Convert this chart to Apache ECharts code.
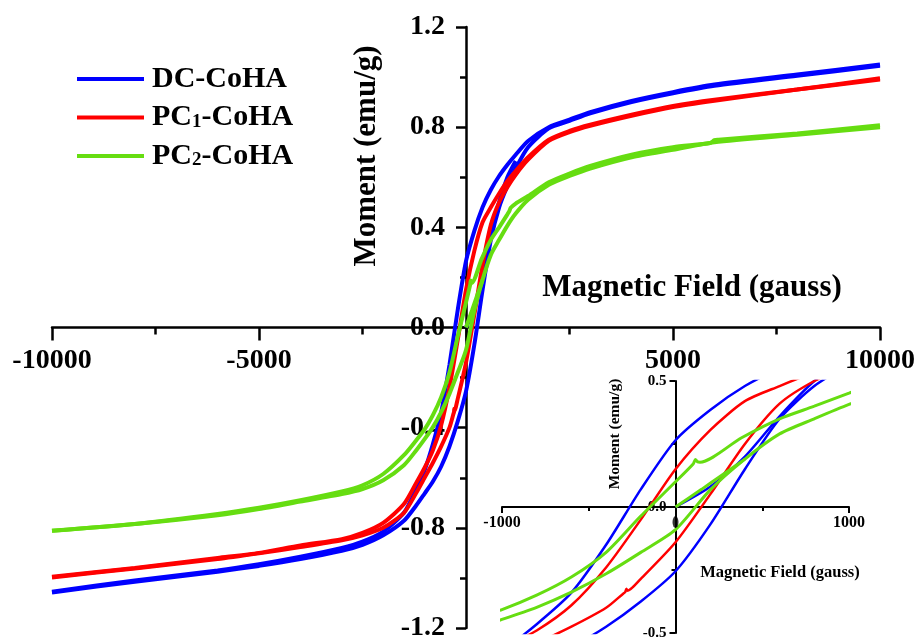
<!DOCTYPE html>
<html>
<head>
<meta charset="utf-8">
<script src="https://cdn.jsdelivr.net/npm/echarts@6/dist/echarts.min.js"></script>
<style>html,body{margin:0;padding:0;background:#fff}#c{width:917px;height:641px}</style>
</head>
<body>
<div id="c"></div>
<script>
// ---- data (field in gauss, moment in emu/g) ----
const seriesNames = ['DC-CoHA', 'PC1-CoHA', 'PC2-CoHA'];
const mainXTicks = [-10000, -5000, 5000, 10000];
const mainYTicks = [-1.2, -0.8, -0.4, 0.0, 0.4, 0.8, 1.2];
const insetXTicks = [-1000, 1000];
const insetYTicks = [-0.5, 0.0, 0.5];

const dcDescending = [[10000,1.05],[8000,1.01],[6000,0.97],[5000,0.94],[4000,0.905],[3000,0.86],[2500,0.83],[2000,0.80],[1500,0.745],[1200,0.69],[1000,0.65],[800,0.605],[600,0.55],[400,0.48],[200,0.385],[0,0.265],[-200,0.07],[-400,-0.15],[-600,-0.34],[-800,-0.465],[-1000,-0.57],[-1200,-0.645],[-1500,-0.74],[-2000,-0.815],[-2500,-0.855],[-3000,-0.88],[-4000,-0.915],[-5000,-0.945],[-6000,-0.97],[-8000,-1.01],[-10000,-1.055]];
const dcAscending = [[-10000,-1.058],[-8000,-1.015],[-6000,-0.975],[-5000,-0.952],[-4000,-0.925],[-3000,-0.892],[-2500,-0.868],[-2000,-0.83],[-1500,-0.772],[-1200,-0.71],[-1000,-0.663],[-800,-0.615],[-600,-0.555],[-400,-0.475],[-200,-0.375],[0,-0.255],[200,-0.07],[400,0.15],[600,0.35],[800,0.48],[1000,0.565],[1200,0.635],[1500,0.72],[2000,0.795],[2500,0.825],[3000,0.855],[4000,0.9],[5000,0.935],[6000,0.965],[8000,1.005],[10000,1.045]];
const dcVirgin = [[0,0],[200,0.08],[400,0.2],[600,0.36],[800,0.5],[1000,0.6],[1200,0.665]];

const pc1Descending = [[10000,0.995],[8000,0.95],[6000,0.91],[5000,0.885],[4000,0.85],[3000,0.81],[2500,0.785],[2000,0.75],[1500,0.68],[1200,0.625],[1000,0.585],[800,0.535],[600,0.48],[400,0.42],[200,0.305],[0,0.15],[-200,-0.05],[-400,-0.24],[-600,-0.39],[-800,-0.49],[-1000,-0.56],[-1200,-0.62],[-1500,-0.705],[-2000,-0.78],[-2500,-0.82],[-3000,-0.845],[-4000,-0.87],[-5000,-0.9],[-6000,-0.92],[-8000,-0.96],[-10000,-0.995]];
const pc1Ascending = [[-10000,-0.998],[-8000,-0.962],[-6000,-0.925],[-5000,-0.902],[-4000,-0.877],[-3000,-0.85],[-2500,-0.83],[-2000,-0.8],[-1500,-0.74],[-1200,-0.66],[-1000,-0.6],[-800,-0.54],[-600,-0.475],[-400,-0.4],[-300,-0.343],[-290,-0.338],[-283,-0.324],[-276,-0.332],[-200,-0.285],[0,-0.14],[200,0.05],[400,0.25],[600,0.41],[800,0.5],[1000,0.56],[1200,0.61],[1500,0.67],[2000,0.745],[2500,0.78],[3000,0.805],[4000,0.845],[5000,0.88],[6000,0.905],[8000,0.95],[10000,0.99]];

const pc2Descending = [[10000,0.808],[8000,0.775],[6100,0.75],[6000,0.748],[5900,0.737],[5000,0.72],[4000,0.69],[3000,0.645],[2500,0.615],[2000,0.58],[1500,0.525],[1200,0.495],[1080,0.478],[1050,0.466],[1000,0.452],[800,0.4],[600,0.35],[381,0.275],[141,0.178],[128,0.179],[115,0.188],[103,0.172],[0,0.1],[-200,-0.036],[-400,-0.18],[-600,-0.278],[-800,-0.35],[-1000,-0.407],[-1200,-0.45],[-1500,-0.51],[-2000,-0.585],[-2500,-0.63],[-3000,-0.655],[-4000,-0.69],[-5000,-0.72],[-6000,-0.745],[-8000,-0.785],[-10000,-0.812]];
const pc2Ascending = [[-10000,-0.812],[-8000,-0.785],[-6000,-0.75],[-5000,-0.725],[-4000,-0.695],[-3000,-0.665],[-2500,-0.645],[-2000,-0.61],[-1500,-0.55],[-1200,-0.49],[-1000,-0.446],[-800,-0.398],[-600,-0.338],[-400,-0.265],[-200,-0.18],[0,-0.09],[200,0.068],[400,0.19],[600,0.29],[800,0.35],[1000,0.407],[1200,0.455],[1500,0.51],[2000,0.57],[2500,0.605],[3000,0.635],[4000,0.68],[5000,0.71],[6000,0.74],[8000,0.77],[10000,0.8]];
const pc2Virgin = [[0,0],[150,0.07],[250,0.118],[400,0.19]];

const insetMarker = [[0,-0.06]];

// ---- styling / layout ----
const FONT = '"Liberation Serif", "Times New Roman", serif';
const colors = {'DC-CoHA':'#0000ff','PC1-CoHA':'#ff0000','PC2-CoHA':'#66dd11'};
const branches = [
  ['DC-CoHA', dcDescending], ['DC-CoHA', dcAscending], ['DC-CoHA', dcVirgin],
  ['PC1-CoHA', pc1Descending], ['PC1-CoHA', pc1Ascending],
  ['PC2-CoHA', pc2Descending], ['PC2-CoHA', pc2Ascending], ['PC2-CoHA', pc2Virgin]
];
const W = 917, H = 641;
const mainBox = {left: 52, top: 27, width: 828, height: 601};
const insetBox = {left: 502, top: 381, width: 347, height: 252};
const mainX = [-10000, 10000], mainY = [-1.2, 1.2];
const insetX = [-1000, 1000], insetY = [-0.5, 0.5];
// offsets that move each axis line to the zero of the other axis
const zeroOffX = (box, yr) => -box.height * (0 - yr[0]) / (yr[1] - yr[0]);
const zeroOffY = (box, xr) => -box.width * (0 - xr[0]) / (xr[1] - xr[0]);

function lineSeries(name, data, idx, width) {
  return {
    type: 'line', name: name, data: data, xAxisIndex: idx, yAxisIndex: idx,
    showSymbol: false, symbol: 'none', smooth: 0.25, clip: true,
    lineStyle: {color: colors[name], width: width},
    itemStyle: {color: colors[name]}, emphasis: {disabled: true}
  };
}
const series = [];
branches.forEach(b => series.push(lineSeries(b[0], b[1], 0, 4)));
branches.forEach(b => series.push(lineSeries(b[0], b[1], 1, b[0] === 'PC2-CoHA' ? 3 : 2.5)));
series.push({type:'scatter', data: insetMarker, xAxisIndex:1, yAxisIndex:1, symbol:'circle', symbolSize:[6,12], itemStyle:{color:'#000'}, silent:true, z:5});

const lineAxis = (w) => ({
  axisLine: {onZero: false, lineStyle: {color: '#000', width: w}},
  splitLine: {show: false}
});
const fmt1 = (ticks) => (v => { const t = ticks.find(k => Math.abs(k - v) < 1e-6); return t === undefined ? '' : t.toFixed(1); });

const option = {
  animation: false,
  backgroundColor: '#fff',
  legend: {
    data: seriesNames, orient: 'vertical', left: 77, top: 64, padding: 0,
    icon: 'rect', itemWidth: 67, itemHeight: 4, itemGap: 8.5,
    formatter: n => n.replace(/PC(\d)/, 'PC{sub|$1}'),
    textStyle: {
      fontFamily: FONT, fontWeight: 'bold', fontSize: 30, color: '#000', lineHeight: 30, padding: [0, 0, 0, 3],
      rich: {sub: {fontFamily: FONT, fontWeight: 'bold', fontSize: 19, color: '#000', padding: [9, 0, 0, 0]}}
    }
  },
  grid: [
    Object.assign({outerBoundsMode: 'none', containLabel: false}, mainBox),
    Object.assign({outerBoundsMode: 'none', containLabel: false}, insetBox)
  ],
  xAxis: [
    Object.assign({type: 'value', gridIndex: 0, min: mainX[0], max: mainX[1], interval: 5000, position: 'bottom',
      offset: zeroOffX(mainBox, mainY),
      axisTick: {length: 13, lineStyle: {color: '#000', width: 2.5}},
      minorTick: {show: true, splitNumber: 2, length: 7, lineStyle: {color: '#000', width: 2.5}},
      axisLabel: {margin: 19, fontFamily: FONT, fontWeight: 'bold', fontSize: 28, color: '#000',
        formatter: v => mainXTicks.includes(v) ? String(v) : ''}}, lineAxis(2.5)),
    Object.assign({type: 'value', gridIndex: 1, min: insetX[0], max: insetX[1], interval: 1000, position: 'bottom',
      offset: zeroOffX(insetBox, insetY),
      axisTick: {length: 6, lineStyle: {color: '#000', width: 2}},
      minorTick: {show: true, splitNumber: 2, length: 4, lineStyle: {color: '#000', width: 2}},
      axisLabel: {margin: 8, fontFamily: FONT, fontWeight: 'bold', fontSize: 16, color: '#000',
        formatter: v => insetXTicks.includes(v) ? String(v) : ''}}, lineAxis(2))
  ],
  yAxis: [
    Object.assign({type: 'value', gridIndex: 0, min: mainY[0], max: mainY[1], interval: 0.4, position: 'left',
      offset: zeroOffY(mainBox, mainX),
      axisTick: {length: 10, lineStyle: {color: '#000', width: 2.5}},
      minorTick: {show: true, splitNumber: 2, length: 6, lineStyle: {color: '#000', width: 2.5}},
      axisLabel: {margin: 21, fontFamily: FONT, fontWeight: 'bold', fontSize: 28, color: '#000', formatter: fmt1(mainYTicks)}}, lineAxis(2.5)),
    Object.assign({type: 'value', gridIndex: 1, min: insetY[0], max: insetY[1], interval: 0.5, position: 'left',
      offset: zeroOffY(insetBox, insetX),
      axisTick: {length: 6, lineStyle: {color: '#000', width: 2}},
      minorTick: {show: true, splitNumber: 2, length: 4, lineStyle: {color: '#000', width: 2}},
      axisLabel: {margin: 9, fontFamily: FONT, fontWeight: 'bold', fontSize: 15, color: '#000', formatter: fmt1(insetYTicks)}}, lineAxis(2))
  ],
  graphic: [
    {type: 'text', x: 367, y: 156, rotation: Math.PI / 2, z: 10,
      style: {text: 'Moment (emu/g)', font: 'bold 31px ' + FONT, fill: '#000', textAlign: 'center', textVerticalAlign: 'middle'}},
    {type: 'text', x: 692, y: 288, z: 10,
      style: {text: 'Magnetic Field (gauss)', font: 'bold 31px ' + FONT, fill: '#000', textAlign: 'center', textVerticalAlign: 'middle'}},
    {type: 'text', x: 615, y: 434, rotation: Math.PI / 2, z: 10,
      style: {text: 'Moment (emu/g)', font: 'bold 15.5px ' + FONT, fill: '#000', textAlign: 'center', textVerticalAlign: 'middle'}},
    {type: 'text', x: 780, y: 573, z: 10,
      style: {text: 'Magnetic Field (gauss)', font: 'bold 16.5px ' + FONT, fill: '#000', textAlign: 'center', textVerticalAlign: 'middle'}}
  ],
  series: series
};
const chart = echarts.init(document.getElementById('c'), null, {renderer: 'canvas', width: W, height: H});
chart.setOption(option);
</script>
</body>
</html>
